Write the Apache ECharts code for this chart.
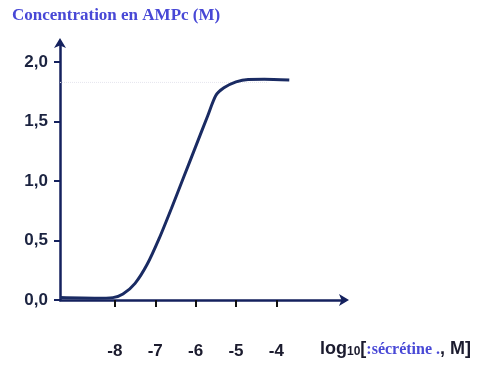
<!DOCTYPE html>
<html>
<head>
<meta charset="utf-8">
<script src="https://cdn.jsdelivr.net/npm/echarts@6/dist/echarts.min.js"></script>
<style>
  html, body { margin: 0; padding: 0; background: #fff; }
  #chart { width: 477px; height: 365px; }
</style>
</head>
<body>
<div id="chart"></div>
<script>
// log10[sécrétine] (M) vs concentration en AMPc (M)
const logDose = [-9.36, -8.5, -8.05, -7.8, -7.5, -7.2, -6.9, -6.6, -6.3, -6.0, -5.7, -5.5, -5.3, -5.0, -4.7, -4.3, -3.68]
const ampc =    [0.02, 0.015, 0.02, 0.05, 0.14, 0.30, 0.52, 0.77, 1.03, 1.29, 1.55, 1.72, 1.785, 1.835, 1.855, 1.856, 1.85]
const xTicks = [-8, -7, -6, -5, -4]
const yTicks = [0, 0.5, 1, 1.5, 2]

const navy = '#14215e'
const chart = echarts.init(document.getElementById('chart'))

const option = {
    animation: false,
    grid: {
        left: 60,
        right: 132,
        top: 42,
        bottom: 65
    },
    xAxis: {
        type: 'value',
        min: -9.36,
        max: -2.3,
        splitLine: { show: false },
        axisLine: {
            onZero: false,
            symbol: ['none', 'arrow'],
            symbolSize: [9, 10],
            symbolOffset: [0, 4],
            lineStyle: { color: navy, width: 2.5 }
        },
        axisTick: {
            show: true,
            customValues: xTicks,
            length: 7,
            lineStyle: { color: '#111', width: 2 }
        },
        axisLabel: {
            customValues: xTicks,
            margin: 43,
            color: '#1b1b2e',
            fontFamily: 'Liberation Sans, Arial, sans-serif',
            fontWeight: 'bold',
            fontSize: 17
        }
    },
    yAxis: {
        type: 'value',
        min: 0,
        max: 2.17,
        splitLine: { show: false },
        axisLine: {
            onZero: false,
            symbol: ['none', 'arrow'],
            symbolSize: [9, 10],
            symbolOffset: [0, 4],
            lineStyle: { color: navy, width: 2.5 }
        },
        axisTick: {
            show: true,
            customValues: yTicks,
            length: 6,
            lineStyle: { color: navy, width: 2 }
        },
        axisLabel: {
            customValues: yTicks,
            margin: 12,
            color: '#1b2340',
            fontFamily: 'Liberation Sans, Arial, sans-serif',
            fontWeight: 'bold',
            fontSize: 17,
            formatter: v => v.toFixed(1).replace('.', ',')
        }
    },
    series: [
        {
            type: 'line',
            data: logDose.map((x, i) => [x, ampc[i]]),
            smooth: 0.25,
            showSymbol: false,
            lineStyle: { color: '#1a2b63', width: 3 }
        },
        {
            // faint guide line of the plateau
            type: 'line',
            data: [[-9.36, 1.83], [-4.2, 1.83]],
            showSymbol: false,
            silent: true,
            lineStyle: { color: '#e6e6ee', width: 1, type: 'dotted' },
            z: 1
        }
    ],
    graphic: [
        {
            type: 'text',
            left: 12,
            top: 7,
            style: {
                text: 'Concentration en AMPc (M)',
                fill: '#4848d6',
                font: 'bold 17px "Liberation Serif", "Times New Roman", serif'
            }
        },
        {
            type: 'text',
            left: 320,
            top: 340,
            style: {
                text: '{a|log}{s|10}{a|[}{b|:sécrétine .}{a|, M]}',
                rich: {
                    a: { fill: '#1b1b2e', font: 'bold 18px "Liberation Sans", Arial, sans-serif', verticalAlign: 'bottom' },
                    s: { fill: '#1b1b2e', font: 'bold 12px "Liberation Sans", Arial, sans-serif', verticalAlign: 'bottom' },
                    b: { fill: '#4848d6', font: 'bold 16px "Liberation Serif", "Times New Roman", serif', verticalAlign: 'bottom' }
                }
            }
        }
    ]
}

chart.setOption(option)
</script>
</body>
</html>
